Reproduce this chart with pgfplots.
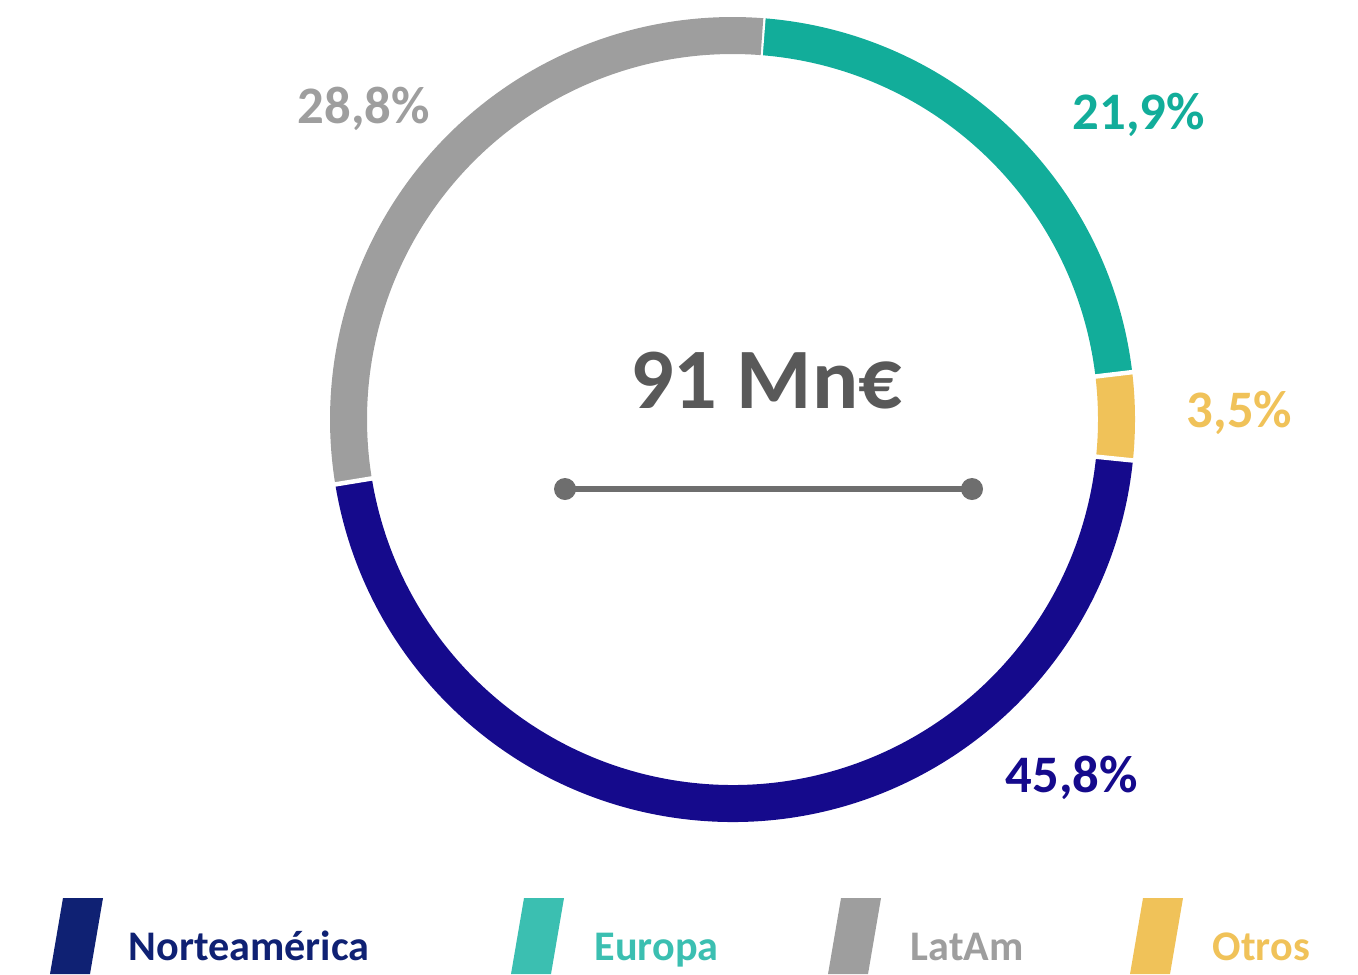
\documentclass[border=0pt]{standalone}
\usepackage{fontspec}
\setmainfont{Carlito}
\usepackage{pgfplots}
\usepackage{pgfplotstable}
\pgfplotsset{compat=1.18}

\definecolor{ringNorteamerica}{HTML}{150A8C}
\definecolor{ringEuropa}{HTML}{12AD9A}
\definecolor{ringLatAm}{HTML}{9E9E9E}
\definecolor{ringOtros}{HTML}{F0C259}
\definecolor{legNorte}{HTML}{0F2173}
\definecolor{legEuropa}{HTML}{3BBFB1}
\definecolor{centerGray}{HTML}{595959}
\definecolor{lineGray}{HTML}{6E6E6E}

% shares in %, clockwise from the top
\pgfplotstableread{
region value
Europa 21.9
Otros 3.5
Norteamerica 45.8
LatAm 28.8
}\sharetable

% ring centre and mid radius, in picture pixels
\def\cx{732.5}\def\cy{554.5}\def\rmid{384}

% start/end angle of each segment
\xdef\cum{85.6}
\foreach \i in {0,...,3}{%
  \pgfplotstablegetelem{\i}{value}\of\sharetable
  \pgfmathsetmacro\endang{\cum-3.6*\pgfplotsretval}%
  \expandafter\xdef\csname segA\i\endcsname{\cum}%
  \expandafter\xdef\csname segB\i\endcsname{\endang}%
  \pgfplotstablegetelem{\i}{region}\of\sharetable
  \expandafter\xdef\csname segN\i\endcsname{\pgfplotsretval}%
  \xdef\cum{\endang}%
}

\begin{document}
\begin{tikzpicture}
  \begin{axis}[
    scale only axis,
    width=13.58cm,height=9.74cm,
    xmin=0,xmax=1358,ymin=0,ymax=974,
    hide axis,
  ]
    \path (axis cs:0,0) rectangle (axis cs:1358,974);
    % ring segments
    \pgfplotsinvokeforeach{0,...,3}{%
      \edef\seg{\noexpand\draw[line width=0.37cm, color=ring\csname segN#1\endcsname]
        (axis cs:{\cx+\rmid*cos(\csname segA#1\endcsname)},{\cy+\rmid*sin(\csname segA#1\endcsname)})
        arc[start angle=\csname segA#1\endcsname, end angle=\csname segB#1\endcsname, radius=3.84cm];}%
      \seg
      \edef\sep{\noexpand\draw[white, line width=0.045cm]
        (axis cs:{\cx+360*cos(\csname segA#1\endcsname)},{\cy+360*sin(\csname segA#1\endcsname)}) --
        (axis cs:{\cx+408*cos(\csname segA#1\endcsname)},{\cy+408*sin(\csname segA#1\endcsname)});}%
      \sep
    }
    % labels
    \begin{scope}[every node/.style={inner sep=0pt,font=\fontsize{15}{18}\selectfont\bfseries}]
      \node[anchor=base west,text=ringLatAm] at (axis cs:297,851) {28,8\%};
      \node[anchor=base west,text=ringEuropa] at (axis cs:1072,845) {21,9\%};
      \node[anchor=base west,text=ringOtros] at (axis cs:1186,547) {3,5\%};
      \node[anchor=base west,text=ringNorteamerica] at (axis cs:1005,182) {45,8\%};
    \end{scope}
    % centre total
    \node[anchor=base,inner sep=0pt,text=centerGray,font=\fontsize{24.5}{28}\selectfont\bfseries]
      at (axis cs:766,566) {91 Mn€};
    \draw[lineGray,line width=0.06cm] (axis cs:565,485) -- (axis cs:972,485);
    \fill[lineGray] (axis cs:565,485) circle[radius=0.11cm];
    \fill[lineGray] (axis cs:972,485) circle[radius=0.11cm];
    % legend
    \fill[legNorte] (axis cs:50,0) -- (axis cs:90,0) -- (axis cs:103,76) -- (axis cs:63,76) -- cycle;
    \fill[legEuropa] (axis cs:511,0) -- (axis cs:551,0) -- (axis cs:564,76) -- (axis cs:524,76) -- cycle;
    \fill[ringLatAm] (axis cs:828,0) -- (axis cs:868,0) -- (axis cs:881,76) -- (axis cs:841,76) -- cycle;
    \fill[ringOtros] (axis cs:1130,0) -- (axis cs:1170,0) -- (axis cs:1183,76) -- (axis cs:1143,76) -- cycle;
    \begin{scope}[every node/.style={inner sep=0pt,anchor=base west,font=\fontsize{12}{14}\selectfont\bfseries}]
      \node[text=legNorte] at (axis cs:128,14) {Norteamérica};
      \node[text=legEuropa] at (axis cs:594,14) {Europa};
      \node[text=ringLatAm] at (axis cs:910,14) {LatAm};
      \node[text=ringOtros] at (axis cs:1212,14) {Otros};
    \end{scope}
  \end{axis}
\end{tikzpicture}
\end{document}
